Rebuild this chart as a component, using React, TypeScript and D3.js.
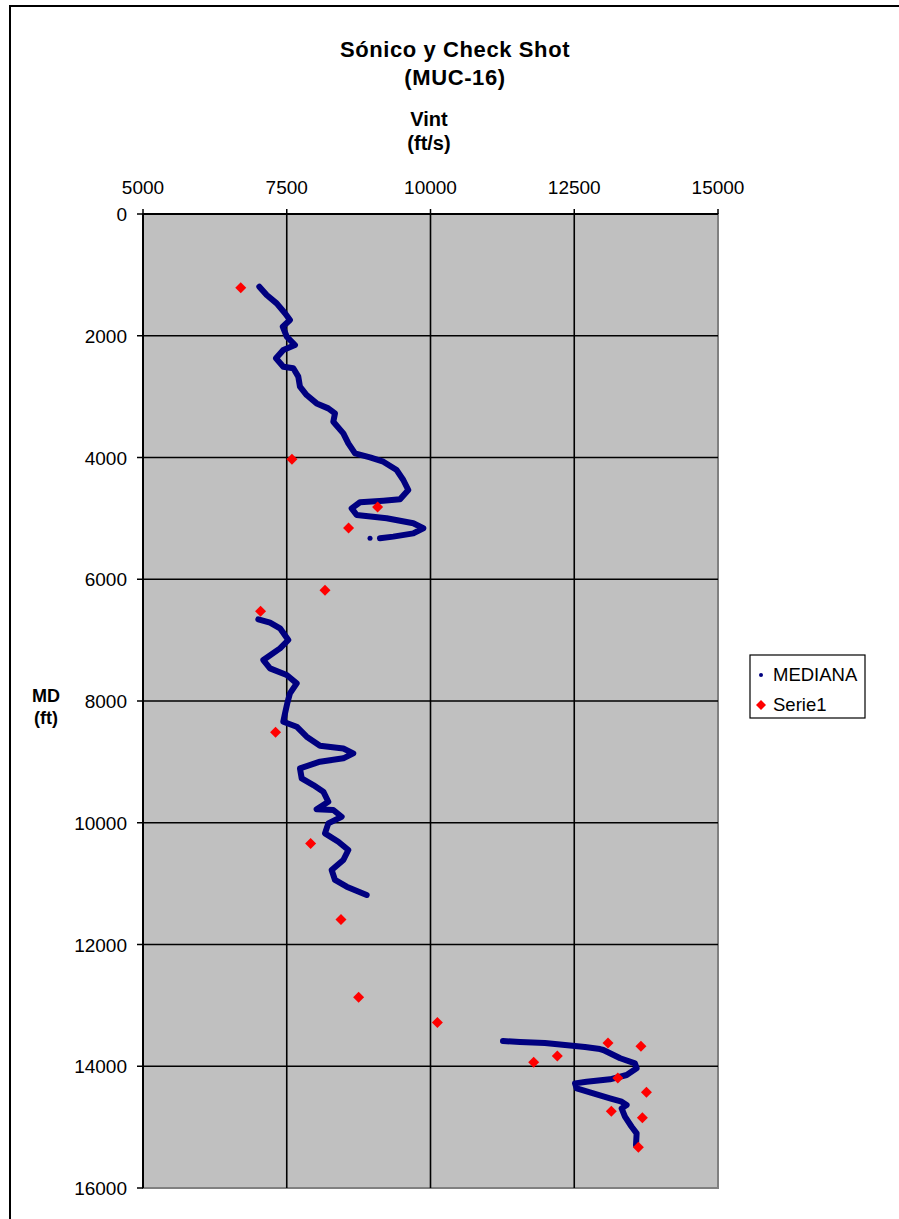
import React from 'react';
import * as d3 from 'd3';

// ---- Data ----
const titleLines = ['Sónico y Check Shot', '(MUC-16)'];
const xTitleLines = ['Vint', '(ft/s)'];
const yTitleLines = ['MD', '(ft)'];
const xTicks = [5000, 7500, 10000, 12500, 15000];
const yTicks = [0, 2000, 4000, 6000, 8000, 10000, 12000, 14000, 16000];

// MEDIANA curve: [Vint ft/s, MD ft]
const medianaSegment1: [number, number][] = [
  [7023, 1194], [7151, 1331], [7325, 1468], [7470, 1631], [7556, 1741], [7430, 1851],
  [7500, 2015], [7643, 2152], [7440, 2234], [7313, 2371], [7440, 2508], [7614, 2535],
  [7701, 2672], [7730, 2837], [7846, 2974], [8020, 3111], [8222, 3193], [8339, 3275],
  [8310, 3412], [8484, 3604], [8571, 3768], [8687, 3932], [8948, 3998], [9180, 4069],
  [9412, 4206], [9527, 4370], [9614, 4534], [9470, 4687], [9180, 4710], [8774, 4736],
  [8629, 4835], [8716, 4945], [9238, 4999], [9701, 5081], [9875, 5163], [9701, 5246],
  [9353, 5300], [9121, 5328],
];
const medianaSegment2: [number, number][] = [
  [7006, 6658], [7209, 6714], [7383, 6806], [7527, 6998], [7383, 7135], [7093, 7327],
  [7209, 7464], [7499, 7573], [7673, 7710], [7556, 7874], [7509, 8038], [7470, 8202],
  [7440, 8340], [7673, 8422], [7846, 8586], [8078, 8734], [8484, 8781], [8657, 8860],
  [8484, 8942], [8078, 8997], [7730, 9107], [7760, 9271], [7962, 9381], [8136, 9490],
  [8223, 9655], [8020, 9779], [8310, 9791], [8455, 9901], [8223, 10010], [8165, 10174],
  [8397, 10311], [8571, 10448], [8484, 10612], [8281, 10776], [8339, 10940], [8542, 11050],
  [8890, 11187],
];
const medianaSegment3: [number, number][] = [
  [11261, 13585], [11556, 13602], [11991, 13618], [12339, 13651], [12687, 13684],
  [12948, 13717], [13006, 13733], [13300, 13869], [13556, 13952], [13585, 14034],
  [13411, 14144], [13121, 14215], [12715, 14254], [12513, 14281], [12542, 14363],
  [12831, 14445], [13121, 14527], [13324, 14582], [13411, 14637], [13324, 14692],
  [13382, 14829], [13498, 14994], [13585, 15103], [13574, 15295],
];
const medianaSegments = [medianaSegment1, medianaSegment2, medianaSegment3];
const medianaStrayVint = [8948];
const medianaStrayDepth = [5328];

// Serie1 (check shot)
const serie1Vint = [6700, 7590, 9080, 8575, 8165, 7045, 7305, 7915, 8443, 8750, 10120,
  13087, 13660, 12205, 11795, 13258, 13755, 13145, 13685, 13615];
const serie1Depth = [1210, 4030, 4815, 5160, 6180, 6525, 8515, 10340, 11590, 12865, 13280,
  13620, 13670, 13832, 13935, 14195, 14428, 14740, 14845, 15330];

const legendNames = ['MEDIANA', 'Serie1'];

const FONT = '"Liberation Sans", Arial, sans-serif';
const NAVY = '#000080';
const RED = '#FF0000';

function diamond(cx: number, cy: number, r: number) {
  return `M${cx},${cy - r}L${cx + r},${cy}L${cx},${cy + r}L${cx - r},${cy}Z`;
}

export default function App() {
  const W = 899;
  const H = 1219;
  const plot = { left: 143, right: 718, top: 214, bottom: 1188 };
  const x = d3.scaleLinear().domain([5000, 15000]).range([plot.left, plot.right]);
  const y = d3.scaleLinear().domain([0, 16000]).range([plot.top, plot.bottom]);
  const line = d3
    .line<[number, number]>()
    .x((d) => x(d[0]))
    .y((d) => y(d[1]));

  return (
    <div style={{ position: 'absolute', left: 0, top: 0 }}>
      <svg width={W} height={H} style={{ display: 'block', background: '#fff' }}>
        {/* chart frame */}
        <rect x={10} y={6} width={1200} height={1600} fill="#fff" stroke="#000" strokeWidth={2} />

        {/* title */}
        <text x={455} y={57} textAnchor="middle" fontFamily={FONT} fontWeight="bold" fontSize={22} letterSpacing={0.6}>
          {titleLines[0]}
        </text>
        <text x={455} y={85} textAnchor="middle" fontFamily={FONT} fontWeight="bold" fontSize={22} letterSpacing={0.6}>
          {titleLines[1]}
        </text>

        {/* x axis title */}
        <text x={429} y={126} textAnchor="middle" fontFamily={FONT} fontWeight="bold" fontSize={20}>
          {xTitleLines[0]}
        </text>
        <text x={429} y={150} textAnchor="middle" fontFamily={FONT} fontWeight="bold" fontSize={20}>
          {xTitleLines[1]}
        </text>

        {/* y axis title */}
        <text x={46} y={702} textAnchor="middle" fontFamily={FONT} fontWeight="bold" fontSize={18}>
          {yTitleLines[0]}
        </text>
        <text x={46} y={724} textAnchor="middle" fontFamily={FONT} fontWeight="bold" fontSize={18}>
          {yTitleLines[1]}
        </text>

        {/* plot area */}
        <rect
          x={plot.left}
          y={plot.top}
          width={plot.right - plot.left}
          height={plot.bottom - plot.top}
          fill="#C0C0C0"
          stroke="#808080"
          strokeWidth={2}
        />

        {/* gridlines */}
        {xTicks.slice(1, -1).map((t) => (
          <line key={'gx' + t} x1={x(t)} x2={x(t)} y1={plot.top} y2={plot.bottom} stroke="#000" strokeWidth={1.6} />
        ))}
        {yTicks.slice(1, -1).map((t) => (
          <line key={'gy' + t} x1={plot.left} x2={plot.right} y1={y(t)} y2={y(t)} stroke="#000" strokeWidth={1.6} />
        ))}

        {/* axes */}
        <line x1={plot.left} x2={plot.right} y1={plot.top} y2={plot.top} stroke="#000" strokeWidth={2} />
        <line x1={plot.left} x2={plot.left} y1={plot.top} y2={plot.bottom} stroke="#000" strokeWidth={2} />
        {xTicks.map((t) => (
          <g key={'xt' + t}>
            <line x1={x(t)} x2={x(t)} y1={plot.top - 5} y2={plot.top} stroke="#000" strokeWidth={1.5} />
            <text x={x(t)} y={194} textAnchor="middle" fontFamily={FONT} fontSize={19}>
              {t}
            </text>
          </g>
        ))}
        {yTicks.map((t) => (
          <g key={'yt' + t}>
            <line x1={plot.left - 6} x2={plot.left} y1={y(t)} y2={y(t)} stroke="#000" strokeWidth={1.5} />
            <text x={127} y={y(t) + 7} textAnchor="end" fontFamily={FONT} fontSize={19}>
              {t}
            </text>
          </g>
        ))}

        {/* MEDIANA */}
        {medianaSegments.map((seg, i) => (
          <path
            key={'seg' + i}
            d={line(seg) || ''}
            fill="none"
            stroke={NAVY}
            strokeWidth={6}
            strokeLinejoin="round"
            strokeLinecap="round"
          />
        ))}
        {medianaStrayVint.map((v, i) => (
          <circle key={'st' + i} cx={x(v)} cy={y(medianaStrayDepth[i])} r={2.5} fill={NAVY} />
        ))}

        {/* Serie1 */}
        {serie1Vint.map((v, i) => (
          <path key={'s1' + i} d={diamond(x(v), y(serie1Depth[i]), 5.5)} fill={RED} />
        ))}

        {/* legend */}
        <rect x={750} y={655} width={115} height={63} fill="#fff" stroke="#000" strokeWidth={1.2} />
        <circle cx={761} cy={675} r={2} fill={NAVY} />
        <text x={773} y={681} fontFamily={FONT} fontSize={18.5}>
          {legendNames[0]}
        </text>
        <path d={diamond(761, 705, 5)} fill={RED} />
        <text x={773} y={711} fontFamily={FONT} fontSize={18.5}>
          {legendNames[1]}
        </text>
      </svg>
    </div>
  );
}
